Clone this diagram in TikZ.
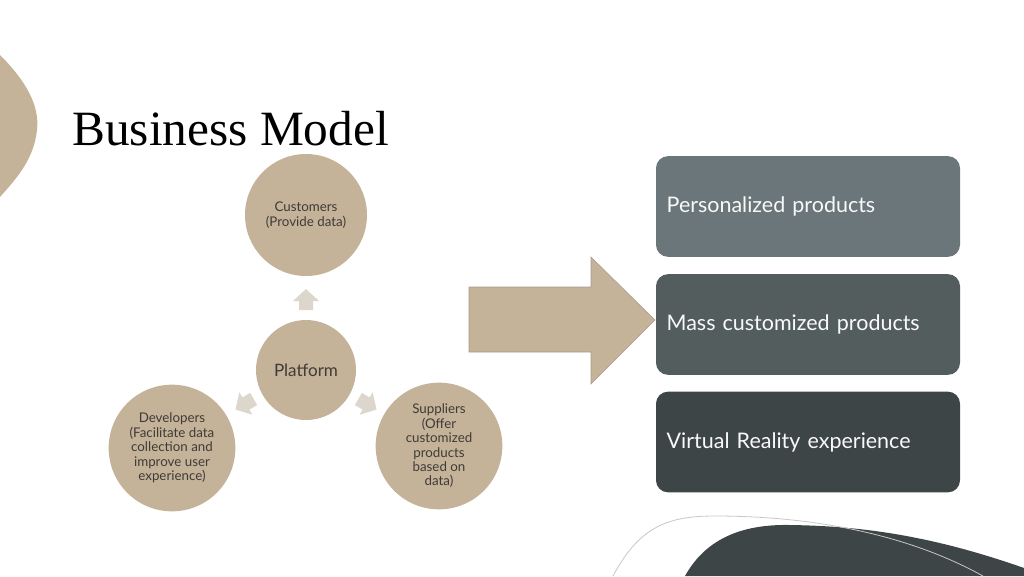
\documentclass[tikz,border=0pt]{standalone}
\usepackage{fontspec}
\setmainfont{Lato}
\newfontfamily\titlefont{Liberation Serif}
\definecolor{tan}{HTML}{C4B299}
\definecolor{tanedge}{HTML}{A99C8C}
\definecolor{lighttan}{HTML}{DDD6CD}
\definecolor{boxA}{HTML}{6A7679}
\definecolor{boxB}{HTML}{535D5E}
\definecolor{boxC}{HTML}{3D4546}
\definecolor{circtext}{HTML}{3F3B37}
\definecolor{curve}{HTML}{C8C8C8}
\tikzset{
  circ/.style={circle, fill=tan, text=circtext, align=center, inner sep=0pt,
    font=\fontsize{10pt}{10.8pt}\selectfont},
  rbox/.style={rectangle, rounded corners=9pt, fill=#1, minimum width=228pt,
    minimum height=75.5pt, text=white!95!gray, inner xsep=8pt, text width=212pt,
    align=left, font=\fontsize{16.1pt}{18pt}\selectfont},
  smallarrow/.style={fill=lighttan},
}
\begin{document}
\begin{tikzpicture}[x=0.75pt,y=-0.75pt]
\useasboundingbox (0,0) rectangle (1024,576);
% left blob
\fill[tan] (0,55) .. controls (25,80) and (40,105) .. (37,130)
  .. controls (34,160) and (15,180) .. (0,197) -- cycle;
% bottom right blob
\fill[boxC] (685,576) .. controls (705,540) and (740,524) .. (790,525)
  .. controls (860,526) and (930,535) .. (1024,568) -- (1024,576) -- cycle;
\draw[curve, line width=0.6pt] (613,576) .. controls (640,525) and (670,516) .. (715,516)
  .. controls (800,516) and (900,530) .. (983,576);
% title
\node[anchor=base west, inner sep=0pt, font=\titlefont\fontsize{37pt}{40pt}\selectfont] (title) at (72,145) {Business Model};
% circles
\node[circ, minimum size=91.5pt] (cust) at (306,215) {Customers\\(Provide data)};
\node[circ, minimum size=75pt, font=\fontsize{12.8pt}{14pt}\selectfont] (plat) at (306,370) {Platform};
\node[circ, minimum size=95pt] (dev) at (172,448) {Developers\\(Facilitate data\\collection and\\improve user\\experience)};
\node[circ, minimum size=95pt] (sup) at (439,446) {Suppliers\\(Offer\\customized\\products\\based on\\data)};
% small arrows
\foreach \name/\ang/\px/\py in {up/90/306/300, left/210/245/404, right/330/367/404}{
  \fill[smallarrow, shift={(\px,\py)}, rotate=\ang]
    (-10,-7) -- (-1,-7) -- (-1,-13) -- (11,0) -- (-1,13) -- (-1,7) -- (-10,7) -- cycle;
}
% big arrow
\coordinate (bigtip) at (655,320);
\filldraw[fill=tan, draw=tanedge, line width=0.4pt] (469,287) -- (591,287) -- (591,257) -- (bigtip) -- (591,384) -- (591,352) -- (469,352) -- cycle;
% boxes
\node[rbox=boxA] (b1) at (808,206.5) {Personalized products};
\node[rbox=boxB] (b2) at (808,324.5) {Mass customized products};
\node[rbox=boxC] (b3) at (808,442) {Virtual Reality experience};
\end{tikzpicture}
\end{document}
